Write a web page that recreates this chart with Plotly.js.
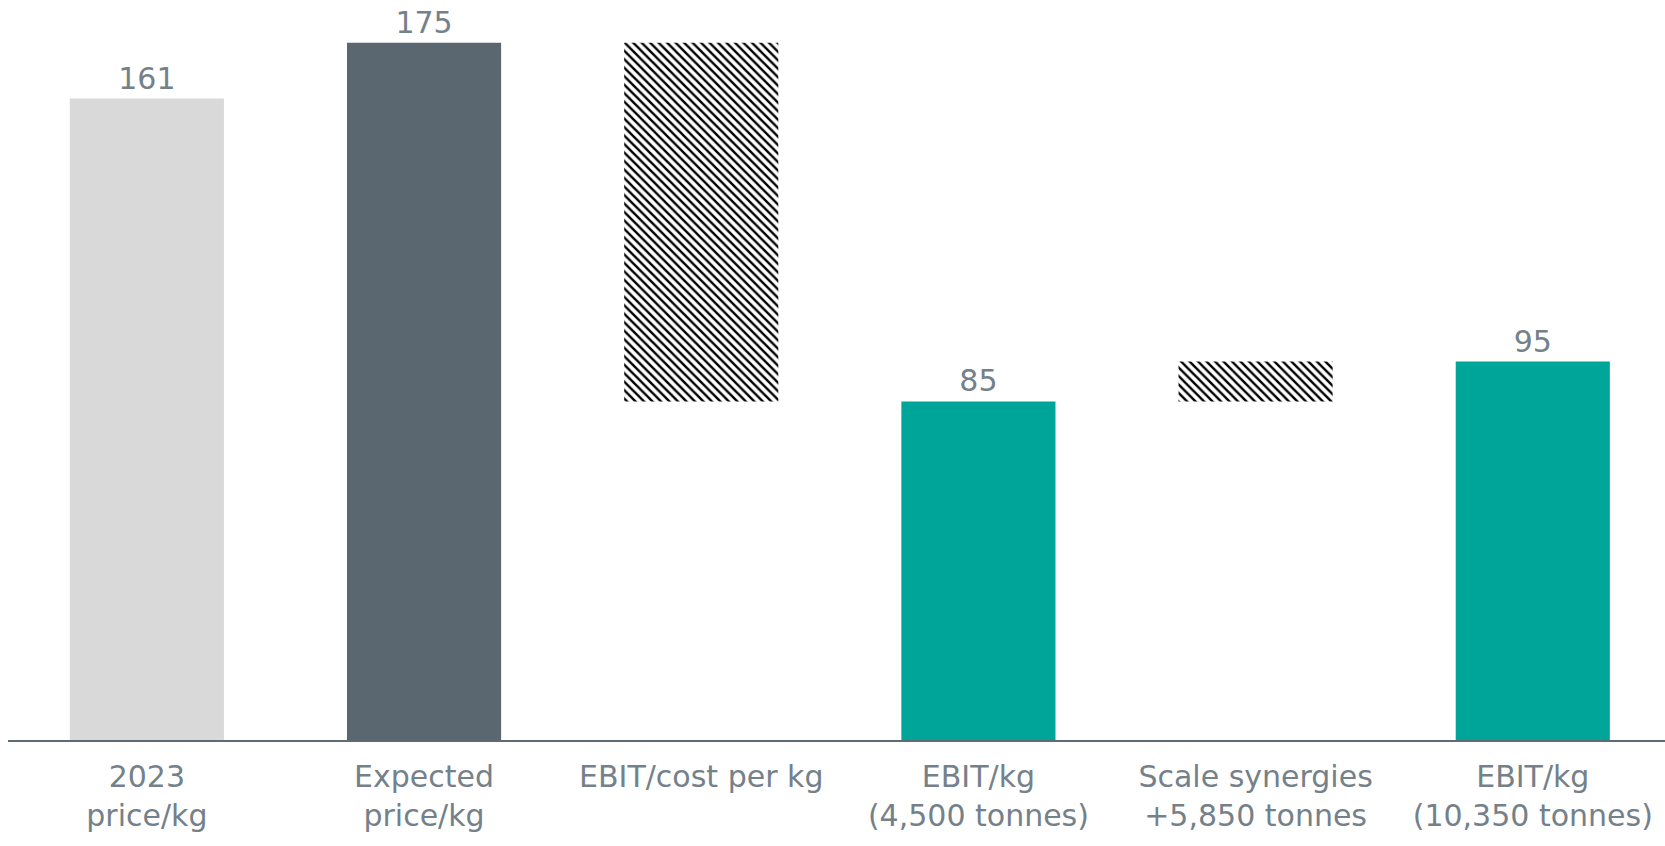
<!DOCTYPE html>
<html>
<head>
<meta charset="utf-8">
<script src="https://cdn.plot.ly/plotly-3.0.1.min.js"></script>
<style>html,body{margin:0;padding:0;background:#fff;}#chart{width:1665px;height:846px;}</style>
</head>
<body>
<div id="chart"></div>
<script>
const categories = ['2023<br>price/kg','Expected<br>price/kg','EBIT/cost per kg','EBIT/kg<br>(4,500 tonnes)','Scale synergies<br>+5,850 tonnes','EBIT/kg<br>(10,350 tonnes)'];
const totals = [161, 175, null, 85, null, 95];
const totalLabels = ['161', '175', '', '85', '', '95'];
const bridgeBase = [null, null, 85, null, 85, null];
const bridgeDelta = [null, null, 90, null, 10, null];
const totalColors = ['#d9d9d9', '#5a6770', '#ffffff', '#00a59a', '#ffffff', '#00a59a'];

const textColor = '#75818a';
const fontFam = 'DejaVu Sans, Verdana, sans-serif';

const traces = [
  {
    type: 'bar',
    x: categories,
    y: totals,
    text: totalLabels,
    textposition: 'outside',
    textfont: {family: fontFam, size: 30, color: textColor},
    cliponaxis: false,
    marker: {color: totalColors, line: {width: 0}},
    width: 0.556,
    hoverinfo: 'skip'
  },
  {
    type: 'bar',
    x: categories,
    y: bridgeDelta,
    base: bridgeBase,
    marker: {
      color: '#ffffff',
      line: {width: 0},
      pattern: {shape: '\\', fgcolor: '#000000', bgcolor: '#ffffff', size: 6, solidity: 0.4}
    },
    width: 0.556,
    hoverinfo: 'skip'
  }
];

const layout = {
  width: 1665,
  height: 846,
  margin: {l: 8, r: 0, t: 3, b: 106},
  paper_bgcolor: '#ffffff',
  plot_bgcolor: '#ffffff',
  barmode: 'overlay',
  showlegend: false,
  font: {family: fontFam, size: 30, color: textColor},
  xaxis: {
    type: 'category',
    range: [-0.501, 5.477],
    showline: true,
    linecolor: '#5f6b73',
    linewidth: 2,
    ticks: '',
    ticklabelstandoff: 9,
    showgrid: false,
    zeroline: false,
    tickfont: {family: fontFam, size: 30, color: textColor}
  },
  yaxis: {
    range: [0, 185],
    visible: false,
    showgrid: false,
    zeroline: false
  }
};

Plotly.newPlot('chart', traces, layout, {displayModeBar: false, staticPlot: true});
</script>
</body>
</html>
